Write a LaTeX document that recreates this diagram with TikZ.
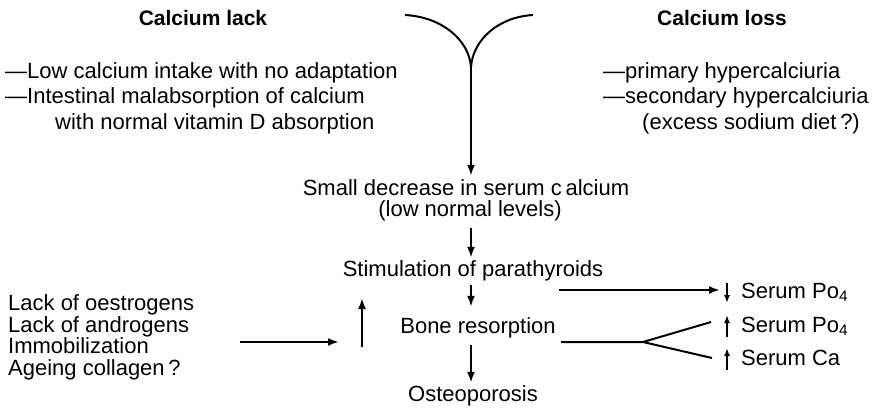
\documentclass[tikz,border=0pt]{standalone}
\usepackage{fontspec}
\setmainfont{Liberation Sans}
\usetikzlibrary{arrows.meta,positioning}

\tikzstyle{every node}=[font={\fontsize{22}{25}\selectfont}, inner sep=0pt, text height=16pt, text depth=4pt]
\tikzstyle{item}=[anchor=west]
\tikzstyle{heading}=[font={\fontsize{21}{25}\selectfont\bfseries}]
\tikzstyle{stem}=[line width=2pt]
\tikzstyle{link}=[stem, -{Latex[length=11pt,width=8pt]}, shorten <=8pt, shorten >=2pt]
\tikzstyle{sign}=[stem, -{Latex[length=8pt,width=6pt]}]

\begin{document}
\begin{tikzpicture}[x=1pt,y=-1pt]
    \useasboundingbox (0,0) rectangle (883,407);

    % the two causes
    \node [heading] (lack) at (203,19) {Calcium lack};
    \node [heading] (loss) at (722,19) {Calcium loss};
    \node [item] (intake) at (5,72) {---Low calcium intake with no adaptation};
    \node [item] (malabs) at (5,97) {---Intestinal malabsorption of calcium};
    \node [item] (vitd) at (55,123) {with normal vitamin D absorption};
    \node [item] (primary) at (603,72) {---primary hypercalciuria};
    \node [item] (secondary) at (603,97) {---secondary hypercalciuria};
    \node [item] (sodium) at (642,123) {(excess sodium diet\,?)};

    % main chain
    \node (decrease) at (466,189) {Small decrease in serum c\,alcium};
    \node (levels) at (470,210) {(low normal levels)};
    \node (stim) at (473,270) {Stimulation of parathyroids};
    \node (resorp) at (478,327) {Bone resorption};
    \node (osteo) at (473,395) {Osteoporosis};

    % factors on the left
    \node [item] (oestr) at (8,304) {Lack of oestrogens};
    \node [item] (andro) at (8,326) {Lack of androgens};
    \node [item] (immob) at (8,347) {Immobilization};
    \node [item] (ageing) at (8,369) {Ageing collagen\,?};

    % results on the right
    \node [item] (po4a) at (741,292) {Serum Po\textsubscript{4}};
    \node [item] (po4b) at (741,326) {Serum Po\textsubscript{4}};
    \node [item] (ca) at (741,359) {Serum Ca};

    \coordinate (merge) at (471,67);
    \coordinate (factors) at (240,342);
    \coordinate (push) at (339,342);
    \coordinate (upfoot) at (362,347);
    \coordinate (uptop) at (362,298);
    \coordinate (pthout) at (559,290);
    \coordinate (pthin) at (720,290);
    \coordinate (boneout) at (561,342);
    \coordinate (split) at (643,342);

    % the curve that joins the causes
    \draw [stem] (405,15) .. controls (442,17) and (469,40) .. (merge);
    \draw [stem] (533,15) .. controls (498,17) and (473,40) .. (merge);
    \draw [link, shorten <=0pt, shorten >=3pt] (merge) -- (merge |- decrease.north);

    \draw [link] (levels.south -| merge) -- (merge |- stim.north);
    \draw [link, shorten <=5pt, shorten >=10pt] (merge |- stim.south) -- (merge |- resorp.north);
    \draw [link] (merge |- resorp.south) -- (merge |- osteo.north);

    \draw [link, shorten <=0pt, shorten >=0pt] (factors) -- (push);
    \draw [link, shorten <=0pt, shorten >=0pt] (upfoot) -- (uptop);

    \draw [link, shorten <=0pt, shorten >=0pt] (pthout) -- (pthin);
    \draw [stem] (boneout) -- (split) -- (711,322);
    \draw [stem] (split) -- (712,358);

    % small arrows before the results
    \draw [sign] (po4a.west) ++(-14,-9) -- ++(0,20);
    \draw [sign] (po4b.west) ++(-14,11) -- ++(0,-22);
    \draw [sign] (ca.west) ++(-14,11) -- ++(0,-22);
\end{tikzpicture}
\end{document}
